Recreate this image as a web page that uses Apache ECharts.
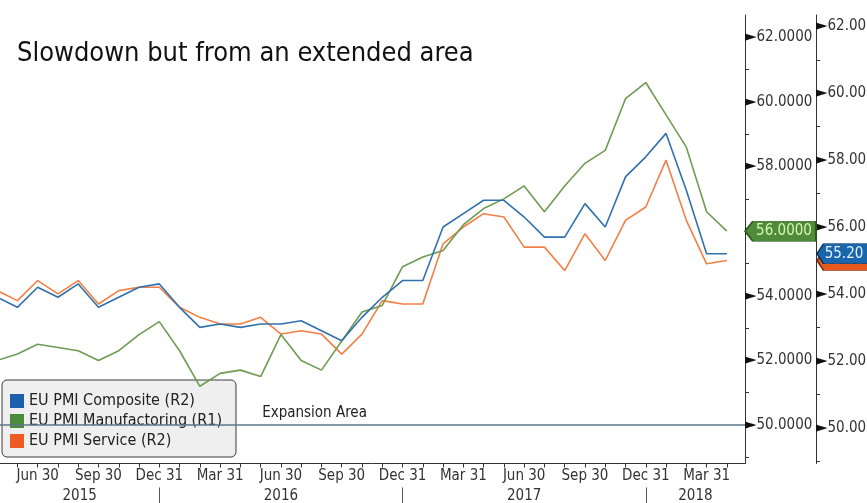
<!DOCTYPE html>
<html>
<head>
<meta charset="utf-8">
<script src="https://cdn.jsdelivr.net/npm/echarts@6/dist/echarts.min.js"></script>
<style>
  html, body { margin: 0; padding: 0; background: #ffffff; }
  #chart { width: 867px; height: 503px; }
</style>
</head>
<body>
<div id="chart"></div>
<script>
// Month-end observation dates
const months = [
  '2015-04-30','2015-05-31','2015-06-30','2015-07-31','2015-08-31','2015-09-30',
  '2015-10-31','2015-11-30','2015-12-31','2016-01-31','2016-02-29','2016-03-31',
  '2016-04-30','2016-05-31','2016-06-30','2016-07-31','2016-08-31','2016-09-30',
  '2016-10-31','2016-11-30','2016-12-31','2017-01-31','2017-02-28','2017-03-31',
  '2017-04-30','2017-05-31','2017-06-30','2017-07-31','2017-08-31','2017-09-30',
  '2017-10-31','2017-11-30','2017-12-31','2018-01-31','2018-02-28','2018-03-31',
  '2018-04-30'
];

// EU PMI readings
const composite = [
  53.9, 53.6, 54.2, 53.9, 54.3, 53.6, 53.9, 54.2, 54.3, 53.6, 53.0, 53.1,
  53.0, 53.1, 53.1, 53.2, 52.9, 52.6, 53.3, 53.9, 54.4, 54.4, 56.0, 56.4,
  56.8, 56.8, 56.3, 55.7, 55.7, 56.7, 56.0, 57.5, 58.1, 58.8, 57.1, 55.2,
  55.2
];
const manufacturing = [
  52.0, 52.2, 52.5, 52.4, 52.3, 52.0, 52.3, 52.8, 53.2, 52.3, 51.2, 51.6,
  51.7, 51.5, 52.8, 52.0, 51.7, 52.6, 53.5, 53.7, 54.9, 55.2, 55.4, 56.2,
  56.7, 57.0, 57.4, 56.6, 57.4, 58.1, 58.5, 60.1, 60.6, 59.6, 58.6, 56.6,
  56.0
];
const service = [
  54.1, 53.8, 54.4, 54.0, 54.4, 53.7, 54.1, 54.2, 54.2, 53.6, 53.3, 53.1,
  53.1, 53.3, 52.8, 52.9, 52.8, 52.2, 52.8, 53.8, 53.7, 53.7, 55.5, 56.0,
  56.4, 56.3, 55.4, 55.4, 54.7, 55.8, 55.0, 56.2, 56.6, 58.0, 56.2, 54.9,
  55.0
];

const seriesNames = ['EU PMI Composite (R2)', 'EU PMI Manufactoring (R1)', 'EU PMI Service (R2)'];
const r1Labels = [50, 52, 54, 56, 58, 60, 62];
const r2Labels = [50, 52, 54, 56, 58, 60, 62];
const r1Minor = [49, 51, 53, 55, 57, 59, 61];
const r2Minor = [49, 51, 53, 55, 57, 59, 61];
const expansionLevel = 50;
const expansionText = 'Expansion Area';
const titleText = 'Slowdown but from an extended area';

const MONTH_NAMES = ['Jan','Feb','Mar','Apr','May','Jun','Jul','Aug','Sep','Oct','Nov','Dec'];
const FONT = "'DejaVu Sans Condensed', 'DejaVu Sans', sans-serif";

// visible window on the month-index axis
const X_MIN = 0.141, X_MAX = 36.895;

const monthOf = d => +d.slice(5, 7);
const quarterIdx = months.map((d, i) => i).filter(i => monthOf(months[i]) % 3 === 0);
const yearEndIdx = months.map((d, i) => i).filter(i => monthOf(months[i]) === 12);
const monthTicks = months.map((d, i) => i).filter(i => i >= X_MIN && i <= X_MAX);

// year labels centred in each visible year segment
const bounds = [X_MIN, ...yearEndIdx, X_MAX];
const yearCenters = [];
const yearText = {};
const firstYear = +months[0].slice(0, 4);
for (let k = 0; k < bounds.length - 1; k++) {
  const c = (bounds[k] + bounds[k + 1]) / 2;
  yearCenters.push(c);
  yearText[c.toFixed(4)] = String(firstYear + k);
}

const pairs = arr => arr.map((v, i) => [i, v]);
const last = arr => arr[arr.length - 1];

const lineColors = ['#3170ad', '#6f9b52', '#f27f45'];
const legendColors = ['#1c60ab', '#4a8c3c', '#ee5a24'];

function flag(value, digits, width, offsetX, fill, border, textColor, z, labelDx) {
  return {
    z: z,
    silent: true,
    symbol: 'path://M0,10 L7,0 L64,0 L64,20 L7,20 Z',
    symbolSize: [width, 20],
    symbolKeepAspect: false,
    symbolOffset: [offsetX, 0],
    itemStyle: { color: fill, borderColor: border, borderWidth: 1 },
    label: {
      show: true, position: 'inside', offset: [labelDx, 0],
      color: textColor, fontSize: 15, fontFamily: FONT,
      formatter: () => value.toFixed(digits)
    },
    data: [{ coord: [X_MAX, value] }]
  };
}

const chart = echarts.init(document.getElementById('chart'), null, { renderer: 'canvas' });

const yAxisCommon = {
  type: 'value',
  position: 'right',
  splitLine: { show: false },
  axisLine: { show: true, lineStyle: { color: '#333', width: 1 } },
  axisTick: { show: true, inside: false, length: 4, lineStyle: { color: '#333' } }
};

// pointer glyph drawn at each labelled tick
const tri = { fontFamily: 'DejaVu Sans', fontSize: 15, color: '#111', padding: [0, 0, 0, 0] };

chart.setOption({
  backgroundColor: '#ffffff',
  animation: false,
  title: {
    text: titleText,
    left: 17, top: 40, padding: 0,
    textStyle: { fontSize: 27, fontWeight: 'normal', color: '#111', fontFamily: FONT }
  },
  legend: {
    orient: 'vertical', left: 2, top: 380, z: 1,
    selectedMode: false,
    data: seriesNames.map((n, i) => ({ name: n, icon: 'rect', itemStyle: { color: legendColors[i] } })),
    itemWidth: 14, itemHeight: 14, itemGap: 4,
    backgroundColor: '#efefef', borderColor: '#3a3a3a', borderWidth: 1, borderRadius: 5,
    padding: [13, 14, 8, 8],
    textStyle: { fontSize: 16, color: '#222', fontFamily: FONT }
  },
  grid: { left: 0, right: 122, top: 15, bottom: 39.5, containLabel: false, outerBoundsMode: 'none' },
  xAxis: [
    {
      type: 'value', min: X_MIN, max: X_MAX, position: 'bottom',
      splitLine: { show: false },
      axisLine: { show: true, onZero: false, lineStyle: { color: '#333', width: 1 } },
      axisTick: { show: true, customValues: monthTicks, length: 4, lineStyle: { color: '#333' } },
      axisLabel: {
        customValues: quarterIdx, margin: 5, fontSize: 15, color: '#333', fontFamily: FONT,
        formatter: v => {
          const d = months[Math.round(v)];
          return MONTH_NAMES[monthOf(d) - 1] + ' ' + d.slice(8, 10);
        }
      }
    },
    {
      type: 'value', min: X_MIN, max: X_MAX, position: 'bottom', offset: 24,
      splitLine: { show: false },
      axisLine: { show: false, onZero: false },
      axisTick: { show: true, customValues: yearEndIdx, length: 16, lineStyle: { color: '#555' } },
      axisLabel: {
        customValues: yearCenters, margin: 1, fontSize: 15, color: '#333', fontFamily: FONT,
        formatter: v => yearText[v.toFixed(4)] || ''
      }
    }
  ],
  yAxis: [
    Object.assign({}, yAxisCommon, {
      min: 48.81, max: 62.69, offset: 0,
      axisTick: Object.assign({}, yAxisCommon.axisTick, { customValues: r1Minor }),
      axisLabel: {
        customValues: r1Labels, margin: 0, fontSize: 15, color: '#333', fontFamily: FONT,
        formatter: v => '{t|\u25BA}' + v.toFixed(4),
        rich: { t: tri }
      }
    }),
    Object.assign({}, yAxisCommon, {
      min: 48.93, max: 62.34, offset: 71,
      axisTick: Object.assign({}, yAxisCommon.axisTick, { customValues: r2Minor }),
      axisLabel: {
        customValues: r2Labels, margin: 0, fontSize: 15, color: '#333', fontFamily: FONT,
        formatter: v => '{t|\u25BA}' + v.toFixed(2),
        rich: { t: tri }
      }
    })
  ],
  series: [
    {
      name: 'expansion', type: 'line', xAxisIndex: 0, yAxisIndex: 0, silent: true,
      data: [[X_MIN, expansionLevel], [X_MAX, expansionLevel]],
      symbol: 'none', z: 2,
      lineStyle: { color: '#5f7587', width: 1.6 },
      markPoint: {
        silent: true, symbol: 'circle', symbolSize: 1,
        itemStyle: { color: 'rgba(0,0,0,0)' },
        label: {
          show: true, position: 'right', distance: 1, offset: [0, -12],
          color: '#222', fontSize: 15, fontFamily: FONT,
          formatter: () => expansionText
        },
        data: [{ coord: [13, expansionLevel] }]
      }
    },
    {
      name: seriesNames[2], type: 'line', xAxisIndex: 0, yAxisIndex: 1,
      data: pairs(service), symbol: 'none', z: 3,
      lineStyle: { color: lineColors[2], width: 1.6 }, itemStyle: { color: lineColors[2] },
      markPoint: flag(last(service), 2, 60, 102, '#e8581f', '#6e2606', '#fde3d6', 6, -3)
    },
    {
      name: seriesNames[1], type: 'line', xAxisIndex: 0, yAxisIndex: 0,
      data: pairs(manufacturing), symbol: 'none', z: 3,
      lineStyle: { color: lineColors[1], width: 1.6 }, itemStyle: { color: lineColors[1] },
      markPoint: flag(last(manufacturing), 4, 71, 35.5, '#4e8b3a', '#2c5520', '#d8f5b0', 6, 3.5)
    },
    {
      name: seriesNames[0], type: 'line', xAxisIndex: 0, yAxisIndex: 1,
      data: pairs(composite), symbol: 'none', z: 3,
      lineStyle: { color: lineColors[0], width: 1.6 }, itemStyle: { color: lineColors[0] },
      markPoint: flag(last(composite), 2, 60, 102, '#1a66ad', '#0b2f57', '#e2f0ff', 7, -3)
    }
  ]
});
</script>
</body>
</html>
